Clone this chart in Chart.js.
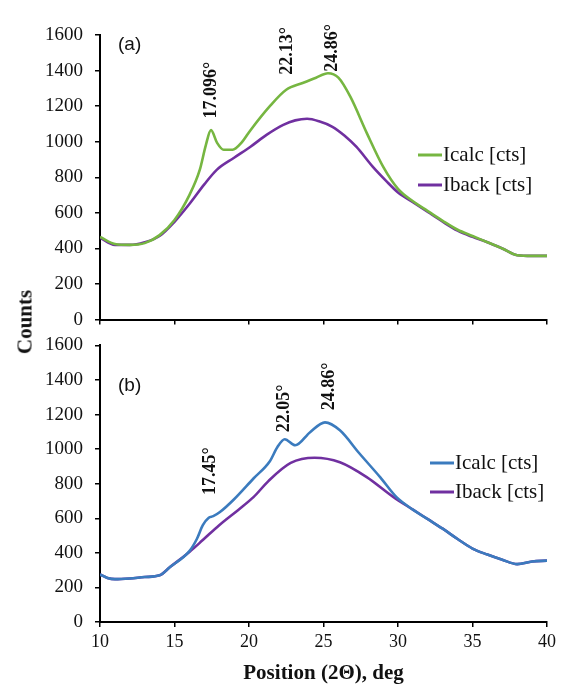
<!DOCTYPE html>
<html>
<head>
<meta charset="utf-8">
<script src="https://cdn.jsdelivr.net/npm/chart.js@4.4.1/dist/chart.umd.min.js"></script>
<style>
  html, body { margin: 0; padding: 0; background: #fff; }
  #wrap { position: relative; width: 564px; height: 688px; overflow: hidden; }
  canvas { position: absolute; left: 0; }
  #ytitle {
    position: absolute; left: 25px; top: 322px;
    transform: translate(-50%, -50%) rotate(-90deg);
    font: bold 21px "Liberation Serif", serif; color: #111; white-space: nowrap;
  }
</style>
</head>
<body>
<div id="wrap">
  <canvas id="topChart" width="564" height="343" style="top:0"></canvas>
  <canvas id="botChart" width="564" height="366" style="top:322px"></canvas>
  <div id="ytitle">Counts</div>
</div>
<script>
/* ── data ── */
// panel (a)
const aCalcX = [10, 11, 12, 13, 14, 15, 16, 16.7, 17.1, 17.45, 17.85, 18.3, 18.9, 19.5, 20.1, 21.4, 22.5, 23.6, 24.5, 25.3, 26.0, 26.8, 27.9, 29, 30, 31, 32, 33, 34, 35, 36, 37, 38, 39, 40];
const aCalcY = [465, 425, 420, 430, 475, 560, 700, 843, 980, 1065, 995, 955, 955, 995, 1065, 1200, 1292, 1330, 1360, 1385, 1360, 1253, 1050, 860, 735, 665, 610, 555, 505, 470, 435, 400, 362, 358, 358];
const aBackX = [10, 11, 12, 13, 14, 15, 16, 17, 17.85, 19, 20.1, 21.2, 22.3, 23.1, 23.9, 24.7, 25.6, 26.4, 27.2, 28.3, 29.2, 30, 31, 32, 33, 34, 35, 36, 37, 38, 39, 40];
const aBackY = [460, 420, 420, 435, 470, 550, 650, 760, 843, 910, 972, 1040, 1095, 1120, 1129, 1115, 1084, 1035, 972, 860, 780, 715, 660, 605, 550, 500, 465, 435, 400, 362, 358, 358];
// panel (b)
const bCalcX = [10, 10.5, 11, 12, 13, 14, 14.7, 16, 16.5, 16.9, 17.3, 17.6, 18.05, 19, 20.3, 21.4, 21.9, 22.4, 23.1, 24.1, 25.1, 26.1, 27.4, 28.8, 29.9, 31, 32, 33, 34, 35, 36, 37, 38, 39, 40];
const bCalcY = [275, 255, 248, 252, 260, 270, 318, 410, 480, 560, 603, 612, 636, 710, 830, 930, 1011, 1057, 1022, 1098, 1155, 1109, 976, 838, 722, 650, 595, 540, 480, 425, 390, 360, 335, 350, 355];
const bBackX = [10, 10.5, 11, 12, 13, 14, 14.7, 16, 16.9, 18, 19.3, 20.3, 21.3, 22.8, 24.4, 26.1, 27.9, 29.7, 31, 32, 33, 34, 35, 36, 37, 38, 39, 40];
const bBackY = [275, 255, 248, 252, 260, 270, 318, 405, 474, 560, 650, 722, 815, 920, 950, 924, 838, 722, 650, 595, 540, 480, 425, 390, 360, 335, 350, 355];

const aPeaks = ['17.096°', '22.13°', '24.86°'];
const aPeakX = [17.45, 22.6, 25.6];
const aPeakY = [1130, 1376, 1393];
const bPeaks = ['17.45°', '22.05°', '24.86°'];
const bPeakX = [17.4, 22.4, 25.4];
const bPeakY = [734, 1098, 1225];

const seriesNames = ['Icalc [cts]', 'Iback [cts]'];
const xTicks = [10, 15, 20, 25, 30, 35, 40];

const GREEN = '#76B641', PURPLE = '#7030A0', BLUE = '#3B7BBE';
const SERIF = '"Liberation Serif", "Times New Roman", serif';

function pts(xs, ys) { return xs.map((x, i) => ({ x, y: ys[i] })); }

/* draws peak labels, panel letter and in-plot legend */
const decor = {
  id: 'decor',
  afterDraw(chart, args, o) {
    const { ctx, scales: { x, y } } = chart;
    ctx.save();
    ctx.fillStyle = '#111';
    ctx.font = 'bold 18px ' + SERIF;
    ctx.textAlign = 'left'; ctx.textBaseline = 'middle';
    o.peaks.forEach((t, i) => {
      ctx.save();
      ctx.translate(x.getPixelForValue(o.peakX[i]), y.getPixelForValue(o.peakY[i]));
      ctx.rotate(-Math.PI / 2);
      ctx.fillText(t, 0, 0);
      ctx.restore();
    });
    ctx.font = '19px "Liberation Sans", Arial, sans-serif';
    ctx.fillText(o.letter, o.letterPos[0], o.letterPos[1]);
    ctx.font = '21px ' + SERIF;
    o.legend.forEach((lg, i) => {
      const ly = o.legendPos[1] + i * o.legendGap;
      ctx.strokeStyle = lg.color; ctx.lineWidth = 3;
      ctx.beginPath(); ctx.moveTo(o.legendPos[0], ly); ctx.lineTo(o.legendPos[0] + 24, ly); ctx.stroke();
      ctx.fillText(lg.text, o.legendPos[0] + 25, ly);
    });
    ctx.restore();
  }
};

function makePanel(id, calcColor, calcPts, backPts, showX, deco) {
  return new Chart(document.getElementById(id), {
    type: 'line',
    data: { datasets: [
      { label: seriesNames[0], data: calcPts, borderColor: calcColor, borderWidth: 2.6, pointRadius: 0, cubicInterpolationMode: 'monotone' },
      { label: seriesNames[1], data: backPts, borderColor: PURPLE, borderWidth: 2.6, pointRadius: 0, cubicInterpolationMode: 'monotone' }
    ]},
    options: {
      responsive: false, animation: false, devicePixelRatio: 1,
      layout: { padding: { top: showX ? 0 : 35, right: 17, left: 0, bottom: 0 } },
      plugins: { legend: { display: false }, tooltip: { enabled: false }, decor: deco },
      scales: {
        x: {
          type: 'linear', min: 10, max: 40,
          afterBuildTicks: s => { s.ticks = xTicks.map(v => ({ value: v })); },
          afterFit: s => { s.height = showX ? 66 : 10; },
          ticks: { display: showX, color: '#111', padding: 4, font: { family: SERIF, size: 18 } },
          grid: { drawOnChartArea: false, drawTicks: true, tickLength: 5, color: '#000', lineWidth: 1.5 },
          border: { display: true, color: '#000', width: 2 },
          title: { display: showX, text: 'Position (2Θ), deg', color: '#111', padding: { top: 0, bottom: 2 },
                   font: { family: SERIF, size: 21, weight: 'bold' } }
        },
        y: {
          min: 0, max: 1600,
          ticks: { stepSize: 200, color: '#111', padding: 12, font: { family: SERIF, size: 19 }, callback: v => String(v) },
          afterFit: s => { s.width = 100; },
          grid: { drawOnChartArea: false, drawTicks: true, tickLength: 5, color: '#000', lineWidth: 1.5 },
          border: { display: true, color: '#000', width: 2 }
        }
      }
    },
    plugins: [decor]
  });
}

makePanel('topChart', GREEN, pts(aCalcX, aCalcY), pts(aBackX, aBackY), false, {
  peaks: aPeaks, peakX: aPeakX, peakY: aPeakY,
  letter: '(a)', letterPos: [118, 45],
  legend: [{ text: seriesNames[0], color: GREEN }, { text: seriesNames[1], color: PURPLE }],
  legendPos: [418, 155], legendGap: 30
});
makePanel('botChart', BLUE, pts(bCalcX, bCalcY), pts(bBackX, bBackY), true, {
  peaks: bPeaks, peakX: bPeakX, peakY: bPeakY,
  letter: '(b)', letterPos: [118, 64],
  legend: [{ text: seriesNames[0], color: BLUE }, { text: seriesNames[1], color: PURPLE }],
  legendPos: [430, 141], legendGap: 29
});
</script>
</body>
</html>
